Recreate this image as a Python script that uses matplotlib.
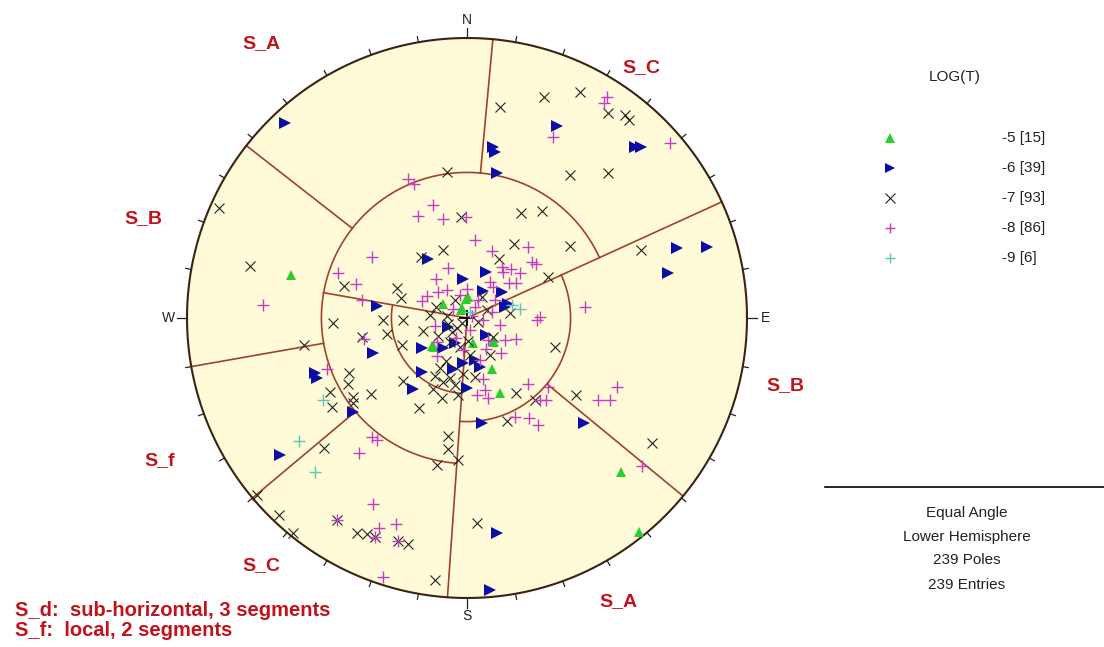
import numpy as np
import matplotlib.pyplot as plt

# Poles on the equal-angle net, (east, north) with the net radius = 1
logt5_poles = [(-0.629, 0.154), (-0.086, 0.050), (0.004, 0.075), (-0.018, 0.036),
               (-0.125, -0.100), (0.021, -0.089), (0.093, -0.082), (0.089, -0.182),
               (0.118, -0.268), (0.550, -0.550), (0.614, -0.764), (-0.004, 0.068),
               (-0.021, 0.029), (-0.118, -0.104), (0.096, -0.086)]

logt6_poles = [(-0.650, 0.696), (0.321, 0.686), (0.093, 0.611), (0.100, 0.593),
               (0.600, 0.611), (0.621, 0.611), (0.107, 0.518), (0.750, 0.250),
               (0.857, 0.254), (0.718, 0.161), (-0.139, 0.211), (0.068, 0.164),
               (-0.014, 0.139), (0.057, 0.096), (0.125, 0.093), (0.146, 0.050),
               (-0.321, 0.043), (-0.336, -0.125), (-0.161, -0.107), (-0.086, -0.107),
               (-0.543, -0.196), (-0.536, -0.214), (-0.161, -0.193), (-0.193, -0.254),
               (-0.050, -0.182), (0.000, -0.250), (0.029, -0.150), (0.046, -0.175),
               (-0.407, -0.336), (-0.668, -0.489), (0.054, -0.375), (0.418, -0.375),
               (0.107, -0.768), (0.082, -0.971), (-0.043, -0.089), (0.068, -0.061),
               (-0.014, -0.161), (-0.068, -0.032), (0.136, 0.039)]

logt7_poles = [(0.118, 0.754), (0.275, 0.789), (0.404, 0.807), (0.504, 0.732),
               (0.564, 0.725), (0.579, 0.707), (0.368, 0.511), (0.504, 0.518),
               (-0.071, 0.521), (-0.886, 0.393), (-0.775, 0.186), (-0.582, -0.096),
               (-0.086, 0.243), (-0.164, 0.218), (-0.439, 0.114), (-0.250, 0.107),
               (-0.236, 0.071), (-0.300, -0.007), (-0.229, -0.007), (-0.479, -0.018),
               (-0.157, -0.046), (-0.375, -0.068), (-0.286, -0.057), (-0.232, -0.096),
               (-0.421, -0.196), (-0.425, -0.236), (-0.229, -0.225), (-0.114, -0.207),
               (-0.086, -0.229), (-0.489, -0.264), (-0.407, -0.282), (-0.343, -0.271),
               (-0.121, -0.254), (-0.482, -0.318), (-0.171, -0.321), (-0.068, -0.021),
               (-0.036, -0.036), (-0.061, -0.086), (-0.075, -0.154), (-0.043, -0.239),
               (-0.032, -0.275), (-0.407, -0.304), (-0.511, -0.464), (-0.068, -0.421),
               (-0.068, -0.468), (-0.032, -0.507), (-0.107, -0.525), (-0.750, -0.632),
               (-0.671, -0.704), (-0.621, -0.768), (-0.464, -0.721), (-0.393, -0.768),
               (-0.357, -0.771), (-0.329, -0.782), (-0.246, -0.796), (-0.211, -0.807),
               (-0.114, -0.936), (0.143, -0.368), (0.661, -0.446), (0.036, -0.732),
               (-0.021, 0.361), (0.193, 0.375), (0.268, 0.382), (0.168, 0.264),
               (0.368, 0.257), (0.621, 0.243), (0.114, 0.211), (0.289, 0.146),
               (0.154, 0.018), (0.314, -0.104), (0.093, -0.068), (0.082, -0.132),
               (0.175, -0.268), (0.243, -0.293), (0.389, -0.275), (0.054, 0.075),
               (-0.018, -0.018), (-0.096, -0.179), (-0.071, 0.007), (-0.054, -0.050),
               (0.011, -0.132), (-0.104, -0.064), (-0.025, -0.104), (0.029, -0.211),
               (-0.089, -0.286), (0.004, -0.082), (-0.132, 0.011), (-0.111, 0.039),
               (-0.043, 0.064), (0.039, -0.014), (0.071, 0.029), (-0.014, -0.200),
               (-0.061, -0.214)]

logt8_poles = [(-0.211, 0.496), (-0.189, 0.479), (0.500, 0.789), (0.489, 0.768),
               (0.307, 0.646), (0.725, 0.625), (-0.729, 0.046), (-0.121, 0.404),
               (-0.175, 0.364), (-0.086, 0.354), (-0.339, 0.218), (-0.461, 0.161),
               (-0.396, 0.121), (-0.375, 0.064), (-0.111, 0.139), (-0.104, 0.093),
               (-0.161, 0.061), (-0.114, -0.029), (-0.368, -0.075), (-0.107, -0.136),
               (-0.500, -0.182), (-0.339, -0.425), (-0.321, -0.436), (-0.386, -0.482),
               (-0.336, -0.664), (-0.464, -0.721), (-0.329, -0.782), (-0.314, -0.750),
               (-0.254, -0.736), (-0.246, -0.796), (-0.300, -0.925), (0.171, -0.354),
               (0.221, -0.357), (0.254, -0.382), (0.625, -0.529), (-0.004, 0.361),
               (0.029, 0.279), (0.218, 0.254), (0.089, 0.239), (0.125, 0.182),
               (0.157, 0.175), (0.189, 0.161), (0.129, 0.164), (0.232, 0.200),
               (0.246, 0.193), (0.175, 0.125), (0.082, 0.129), (0.093, 0.111),
               (0.000, 0.104), (-0.050, 0.032), (0.029, 0.039), (0.421, 0.039),
               (0.250, -0.007), (0.261, 0.004), (0.175, -0.075), (0.121, -0.125),
               (0.068, -0.111), (0.057, -0.218), (0.064, -0.257), (0.075, -0.286),
               (0.218, -0.236), (0.261, -0.293), (0.282, -0.293), (0.289, -0.246),
               (0.536, -0.246), (0.468, -0.293), (0.511, -0.293), (-0.025, 0.082),
               (-0.107, -0.086), (0.039, 0.064), (0.057, -0.007), (0.011, -0.043),
               (0.046, -0.150), (0.089, 0.021), (-0.039, -0.071), (0.118, -0.025),
               (0.018, 0.007), (0.075, -0.079), (-0.071, 0.100), (-0.143, 0.079),
               (0.100, 0.064), (0.136, -0.079), (-0.014, -0.114), (0.036, -0.275),
               (0.150, 0.125), (-0.068, 0.179)]

logt9_poles = [(0.189, 0.032), (-0.514, -0.293), (-0.600, -0.439), (-0.543, -0.550),
               (0.161, 0.046), (0.011, 0.021)]

legend_labels = ["-5 [15]", "-6 [39]", "-7 [93]", "-8 [86]", "-9 [6]"]

# segment boundaries: radial lines (azimuth, r from, r to) and arcs (r, az from, az to)
seg_lines = [(5.3, 0.52, 1.0), (308, 0.52, 1.0), (260, 0.52, 1.0), (230, 0.52, 1.0),
             (184, 0.0, 1.0), (129.5, 0.37, 1.0), (65.5, 0.0, 1.0), (280, 0.0, 0.52)]
seg_arcs = [(0.52, 184, 425.5), (0.37, 65.5, 184), (0.27, 184, 280)]

zone_labels = [("S_A", 261, 44), ("S_C", 641, 68), ("S_B", 143, 219), ("S_B", 785, 386),
               ("S_f", 160, 461), ("S_C", 261, 566), ("S_A", 618, 602)]

W, H = 1104, 647
CX, CY, R = 467, 318, 280          # net centre and radius in pixels

red = "#c2121c"
seg_col = "#a3402c"

fig = plt.figure(figsize=(W / 100, H / 100), dpi=100)
ax = fig.add_axes([0, 0, 1, 1])
ax.set_xlim(-CX / R, (W - CX) / R)
ax.set_ylim(-(H - CY) / R, CY / R)
ax.axis("off")


def pol(az, r):
    a = np.radians(az)
    return r * np.sin(a), r * np.cos(a)


# net background and primitive
ax.add_patch(plt.Circle((0, 0), 1.0, facecolor="#fffbd8", edgecolor="none", zorder=0))
t = np.linspace(0, 360, 721)
px, py = pol(t, 1.0)
ax.plot(px, py, color="#3c2216", lw=1.5, zorder=2)

# tick marks every 10 degrees, longer at N/E/S/W
for az in range(0, 360, 10):
    ln = 0.034 if az % 90 == 0 else 0.02
    x0, y0 = pol(az, 1.0)
    x1, y1 = pol(az, 1.0 + ln)
    ax.plot([x0, x1], [y0, y1], color="#222222", lw=0.9, zorder=2)

for txt, az in [("N", 0), ("E", 90), ("S", 180), ("W", 270)]:
    x, y = pol(az, 1.065)
    ax.text(x, y, txt, ha="center", va="center", fontsize=10,
            family="Liberation Sans", color="#222222")

# segment boundaries
for az, r0, r1 in seg_lines:
    x0, y0 = pol(az, r0)
    x1, y1 = pol(az, r1)
    ax.plot([x0, x1], [y0, y1], color=seg_col, lw=1.2, zorder=1)
for r, a0, a1 in seg_arcs:
    aa = np.linspace(a0, a1, 200)
    ax.plot(*pol(aa, r), color=seg_col, lw=1.2, zorder=1)

# centre cross
ax.plot(0, 0, marker="+", ms=11, mew=1.3, color="black", zorder=2)

styles = [
    (logt5_poles, dict(marker="^", color="#2fcc2f", ms=7.5, mew=0)),
    (logt6_poles, dict(marker=">", color="#0c0ca6", ms=8, mew=0)),
    (logt7_poles, dict(marker="x", color="#222222", ms=7.5, mew=0.8)),
    (logt8_poles, dict(marker="+", color="#c43cc4", ms=8.5, mew=1.0)),
    (logt9_poles, dict(marker="+", color="#5cc4b8", ms=8.5, mew=1.0)),
]
for poles, st in styles:
    e = [p[0] for p in poles]
    n = [p[1] for p in poles]
    ax.plot(e, n, ls="none", zorder=3, **st)

# zone labels
for txt, x, y in zone_labels:
    fig.text(x / W, 1 - y / H, txt, ha="center", va="center", fontsize=14,
             fontweight="bold", family="Liberation Sans", color=red)

fig.text(15 / W, 1 - 611 / H, "S_d:  sub-horizontal, 3 segments", ha="left", va="center",
         fontsize=14.5, fontweight="bold", family="Liberation Sans", color=red)
fig.text(15 / W, 1 - 631 / H, "S_f:  local, 2 segments", ha="left", va="center",
         fontsize=14.5, fontweight="bold", family="Liberation Sans", color=red)

# legend
fig.text(955 / W, 1 - 77 / H, "LOG(T)", ha="center", va="center", fontsize=11,
         family="Liberation Sans", color="#222222")
lax = fig.add_axes([0, 0, 1, 1], facecolor="none")
lax.set_xlim(0, W)
lax.set_ylim(H, 0)
lax.axis("off")
for i, ((poles, st), lab) in enumerate(zip(styles, legend_labels)):
    yy = 138 + 30 * i
    st2 = dict(st)
    st2["ms"] = st["ms"] - 1
    lax.plot([890], [yy], ls="none", **st2)
    fig.text(1002 / W, 1 - yy / H, lab, ha="left", va="center", fontsize=11,
             family="Liberation Sans", color="#222222")

# info block
lax.plot([825, W], [487, 487], color="black", lw=1.2)
for yy, txt in [(513, "Equal Angle"), (537, "Lower Hemisphere"),
                (560, "239 Poles"), (585, "239 Entries")]:
    fig.text(967 / W, 1 - yy / H, txt, ha="center", va="center", fontsize=11,
             family="Liberation Sans", color="#222222")

fig.savefig("out.png", dpi=100)
